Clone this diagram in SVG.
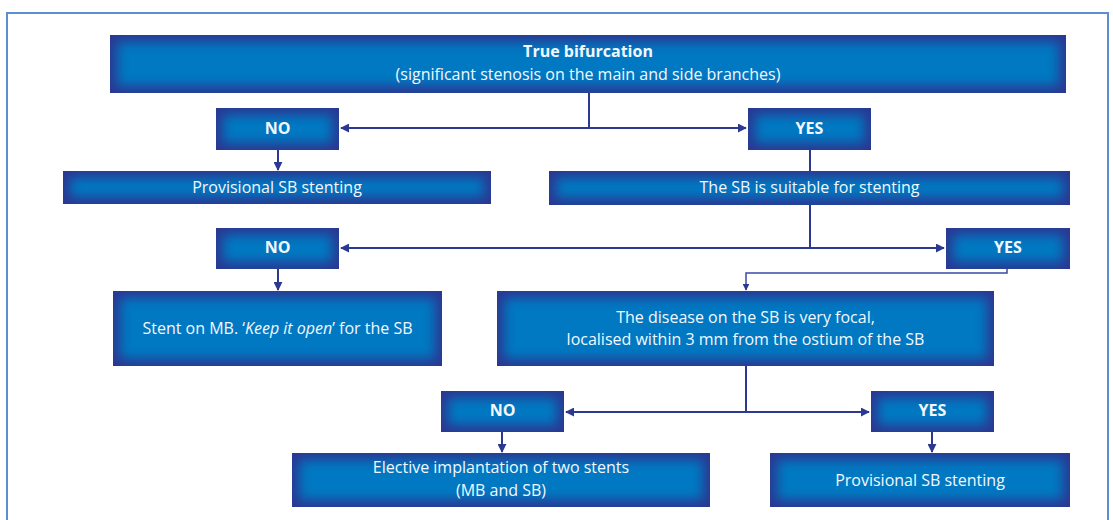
<svg xmlns="http://www.w3.org/2000/svg" width="1113" height="520" viewBox="0 0 1113 520">
  <defs>
    <!-- dark navy rim fading into a brighter blue centre -->
    <filter id="glow" x="0" y="0" width="1" height="1" color-interpolation-filters="sRGB">
      <feFlood flood-color="#2a3892" result="dark"/>
      <feComposite in="dark" in2="SourceAlpha" operator="in" result="base"/>
      <feMorphology in="SourceAlpha" operator="erode" radius="7" result="er"/>
      <feGaussianBlur in="er" stdDeviation="6" result="bl"/>
      <feFlood flood-color="#0079c2"/>
      <feComposite in2="bl" operator="in" result="light"/>
      <feComposite in="light" in2="SourceAlpha" operator="in" result="light2"/>
      <feMerge>
        <feMergeNode in="base"/>
        <feMergeNode in="light2"/>
      </feMerge>
    </filter>
    <marker id="arrow" viewBox="0 0 10 10" refX="9" refY="5" markerWidth="4.5" markerHeight="4.5" orient="auto-start-reverse">
      <path d="M0,0 L10,5 L0,10 z" fill="#2b3990"/>
    </marker>
    <style>
      .box { fill: #0079c2; filter: url(#glow); }
      .t { font-family: "Open Sans", "Lato", "Liberation Sans", sans-serif; font-size: 16px; fill: #f4f7ff; text-anchor: middle; }
      .b { font-weight: bold; }
      .conn { fill: none; stroke: #2b3990; stroke-width: 2; }
      .thin { fill: none; stroke: #3b4aa3; stroke-width: 1.5; }
      .frame { fill: none; stroke: #5b8fcf; stroke-width: 2; }
    </style>
  </defs>

  <rect width="1113" height="520" fill="#ffffff"/>
  <rect class="frame" x="7" y="13" width="1101" height="520"/>

  <!-- connectors -->
  <g id="connectors">
    <path class="conn" d="M589,93 V128"/>
    <path class="conn" d="M341,128 H746" marker-start="url(#arrow)" marker-end="url(#arrow)"/>
    <path class="conn" d="M278,150 V170" marker-end="url(#arrow)"/>
    <path class="conn" d="M810,150 V171"/>
    <path class="conn" d="M810,205 V248"/>
    <path class="conn" d="M341,248 H944" marker-start="url(#arrow)" marker-end="url(#arrow)"/>
    <path class="conn" d="M278,269 V290" marker-end="url(#arrow)"/>
    <path class="thin" d="M1007,269 V273 H746 V290" marker-end="url(#arrow)"/>
    <path class="conn" d="M746,366 V412"/>
    <path class="conn" d="M566,412 H869" marker-start="url(#arrow)" marker-end="url(#arrow)"/>
    <path class="conn" d="M502,432 V452" marker-end="url(#arrow)"/>
    <path class="conn" d="M932,432 V452" marker-end="url(#arrow)"/>
  </g>

  <g id="true-bifurcation">
    <rect class="box" x="110" y="35" width="956" height="58"/>
    <text class="t b" x="588" y="57">True bifurcation</text>
    <text class="t" x="588" y="80">(significant stenosis on the main and side branches)</text>
  </g>

  <g id="no-1">
    <rect class="box" x="216" y="108" width="123" height="42"/>
    <text class="t b" x="277.5" y="134">NO</text>
  </g>
  <g id="yes-1">
    <rect class="box" x="748" y="108" width="123" height="42"/>
    <text class="t b" x="809.5" y="134">YES</text>
  </g>

  <g id="provisional-sb-1">
    <rect class="box" x="63" y="171" width="428" height="33"/>
    <text class="t" x="277" y="193">Provisional SB stenting</text>
  </g>
  <g id="sb-suitable">
    <rect class="box" x="549" y="171" width="521" height="34"/>
    <text class="t" x="809.5" y="193">The SB is suitable for stenting</text>
  </g>

  <g id="no-2">
    <rect class="box" x="216" y="228" width="123" height="41"/>
    <text class="t b" x="277.5" y="253">NO</text>
  </g>
  <g id="yes-2">
    <rect class="box" x="946" y="228" width="124" height="41"/>
    <text class="t b" x="1008" y="253">YES</text>
  </g>

  <g id="keep-it-open">
    <rect class="box" x="113" y="291" width="329" height="75"/>
    <text class="t" x="277.5" y="334">Stent on MB. ‘<tspan font-style="italic">Keep it open</tspan>’ for the SB</text>
  </g>
  <g id="focal-disease">
    <rect class="box" x="497" y="291" width="497" height="75"/>
    <text class="t" x="745.5" y="323">The disease on the SB is very focal,</text>
    <text class="t" x="745.5" y="345">localised within 3 mm from the ostium of the SB</text>
  </g>

  <g id="no-3">
    <rect class="box" x="441" y="391" width="123" height="41"/>
    <text class="t b" x="502.5" y="416">NO</text>
  </g>
  <g id="yes-3">
    <rect class="box" x="871" y="391" width="123" height="41"/>
    <text class="t b" x="932.5" y="416">YES</text>
  </g>

  <g id="two-stents">
    <rect class="box" x="292" y="453" width="418" height="54"/>
    <text class="t" x="501" y="473">Elective implantation of two stents</text>
    <text class="t" x="501" y="496">(MB and SB)</text>
  </g>
  <g id="provisional-sb-2">
    <rect class="box" x="770" y="453" width="300" height="54"/>
    <text class="t" x="920" y="486">Provisional SB stenting</text>
  </g>
</svg>
